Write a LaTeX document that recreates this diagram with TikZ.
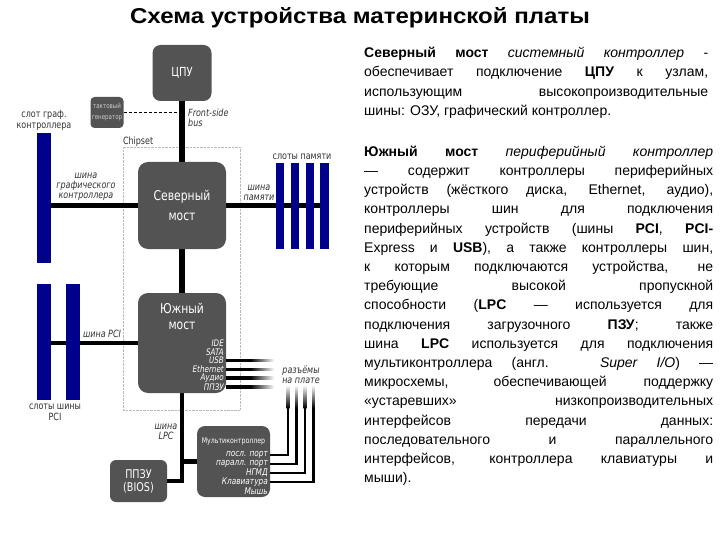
\documentclass[tikz,border=0pt]{standalone}
\usepackage{fontspec}
\setmainfont{Liberation Sans}
\newfontfamily\diafont[FakeStretch=0.8]{DejaVu Sans}
\newfontfamily\titlefont[FakeStretch=1.12]{Liberation Sans}
\usetikzlibrary{positioning, calc, backgrounds}
\definecolor{chipgray}{RGB}{83, 83, 83}
\definecolor{slotblue}{RGB}{0, 0, 140}
\definecolor{labelgray}{RGB}{50, 50, 50}
\tolerance=10000
\hyphenpenalty=10000

\begin{document}
\begin{tikzpicture}[
    x=1pt, y=-1pt,
    chip/.style={rectangle, fill=chipgray, rounded corners=8pt, text=white, align=center, inner sep=0pt, font=\diafont\fontsize{12.5}{14}\selectfont},
    slot/.style={rectangle, fill=slotblue, inner sep=0pt, minimum width=14pt},
    memslot/.style={slot, minimum width=8.5pt, minimum height=86pt},
    bus/.style={line width=4.5pt},
    fsb/.style={line width=6.5pt},
    wire/.style={line width=2.6pt},
    lbl/.style={text=labelgray, align=center, inner sep=0pt, font=\diafont\fontsize{10}{10.5}\selectfont},
    ilbl/.style={lbl, font=\diafont\itshape\fontsize{10}{10}\selectfont},
    port/.style={anchor=east, inner sep=0pt, text=white, font=\diafont\itshape\fontsize{9}{9}\selectfont},
    para/.style={anchor=north west, inner sep=0pt, align=justify, font=\fontsize{14}{19.2}\selectfont}
]

\useasboundingbox (0,0) rectangle (720,540);

\node[font=\titlefont\bfseries\fontsize{21.5}{24}\selectfont] (title) at (360,18) {Схема устройства материнской платы};

\node[chip, minimum width=59pt, minimum height=56pt] (cpu) at (182,73) {ЦПУ};
\node[chip, minimum width=33pt, minimum height=31pt, rounded corners=4pt, text=white!80!black, font=\diafont\fontsize{6.9}{11}\selectfont] (clock) at (107,112.5) {тактовый\\генератор};
\node[chip, minimum width=88pt, minimum height=87pt, rounded corners=10pt, font=\diafont\fontsize{13.5}{20}\selectfont] (north) at (182,205.5) {Северный\\мост};
\node[chip, minimum width=88pt, minimum height=100pt, rounded corners=10pt] (south) at (182,343) {};
\node[chip, fill=none, font=\diafont\fontsize{13.5}{16}\selectfont] (southname) at (182,316) {Южный\\мост};
\node[chip, minimum width=73pt, minimum height=71pt] (multi) at (233.5,461.5) {};
\node[chip, fill=none, font=\diafont\fontsize{7.8}{9}\selectfont] (multiname) at (233.5,441) {Мультиконтроллер};
\node[chip, minimum width=57pt, minimum height=42pt, rounded corners=6pt, font=\diafont\fontsize{12}{13}\selectfont] (bios) at (138.5,481) {ППЗУ\\(BIOS)};

\node[slot, minimum height=130pt] (agp) at (44,198) {};
\node[slot, minimum height=116pt] (pci1) at (44,342) {};
\node[slot, minimum height=116pt, right=15pt of pci1] (pci2) {};
\node[memslot] (mem1) at (280,206) {};
\node[memslot, right=6pt of mem1] (mem2) {};
\node[memslot, right=6pt of mem2] (mem3) {};
\node[memslot, right=6pt of mem3] (mem4) {};

\foreach \name/\txt [count=\i] in {ide/IDE, sata/SATA, usb/USB, eth/Ethernet, audio/Аудио, rom/ППЗУ}
    \node[port] (\name) at (224,334.2+8.8*\i) {\txt};
\foreach \name/\txt [count=\i] in {serial/посл. порт, parallel/паралл. порт, fdd/НГМД, kbd/Клавиатура, mouse/Мышь}
    \node[port, font=\diafont\itshape\fontsize{9.2}{10}\selectfont] (\name) at (268,446+9*\i) {\txt};

\begin{scope}[on background layer]
\node[draw=gray!55, densely dotted, minimum width=117pt, minimum height=263pt] (chipset) at (181.5,278.5) {};
\draw[fsb] (cpu) -- (north);
\draw[fsb] (north) -- (south);
\draw[bus] (north) -- (north -| agp);
\draw[bus] (north) -- (north -| mem4);
\draw[bus] (south) -- (south -| pci1);
\draw[bus] (south) |- (bios);
\draw[bus] (south) |- (multi);
\draw[densely dashed, thin] (clock) -- (clock -| cpu);
\end{scope}

\foreach \n in {usb, eth, audio, rom}
    \shade[left color=black, right color=white, middle color=black] ($(south.east |- \n.east)+(0,-1.3)$) rectangle ++(48,2.6);
\foreach \n/\x in {serial/288, parallel/296.5, fdd/305, kbd/313.5} {
    \draw[wire] (multi.east |- \n.east) -| (\x,408);
    \shade[top color=white, bottom color=black] (\x-1.3,408) rectangle (\x+1.3,385);
}

\node[lbl] (agplbl) at (44,120.5) {слот граф.\\контроллера};
\node[ilbl] (agpbus) at (86,187) {шина\\графического\\контроллера};
\node[lbl] (memlbl) at (302,156.5) {слоты памяти};
\node[ilbl] (membus) at (259,193) {шина\\памяти};
\node[ilbl, align=left, anchor=west] (fsblbl) at (188,117.5) {Front-side\\bus};
\node[lbl, anchor=south west] (chiplbl) at (chipset.north west) {Chipset};
\node[ilbl] (pcibus) at (102,334) {шина PCI};
\node[lbl] (pcilbl) at (55,412.5) {слоты шины\\PCI};
\node[ilbl] (connlbl) at (301,375) {разъёмы\\на плате};
\node[ilbl] (lpclbl) at (166,432) {шина\\LPC};

\node[para, text width=344pt] (northtext) at (364,44) {\strut\textbf{Северный мост} \textit{системный контроллер} -\linebreak
обеспечивает подключение \textbf{ЦПУ} к узлам,\linebreak
использующим высокопроизводительные\linebreak
шины: ОЗУ, графический контроллер.};

\node[para, text width=349pt] (southtext) at (364,142.6) {\strut\textbf{Южный мост} \textit{периферийный контроллер}\linebreak
— содержит контроллеры периферийных\linebreak
устройств (жёсткого диска, Ethernet, аудио),\linebreak
контроллеры шин для подключения\linebreak
периферийных устройств (шины \textbf{PCI}, \textbf{PCI-}\linebreak
Express и \textbf{USB}), а также контроллеры шин,\linebreak
к которым подключаются устройства, не\linebreak
требующие высокой пропускной\linebreak
способности (\textbf{LPC}~— используется для\linebreak
подключения загрузочного \textbf{ПЗУ}; также\linebreak
шина \textbf{LPC} используется для подключения\linebreak
мультиконтроллера (англ. \textit{Super I/O})~—\linebreak
микросхемы, обеспечивающей поддержку\linebreak
«устаревших» низкопроизводительных\linebreak
интерфейсов передачи данных:\linebreak
последовательного и параллельного\linebreak
интерфейсов, контроллера клавиатуры и\linebreak
мыши).};

\end{tikzpicture}
\end{document}
